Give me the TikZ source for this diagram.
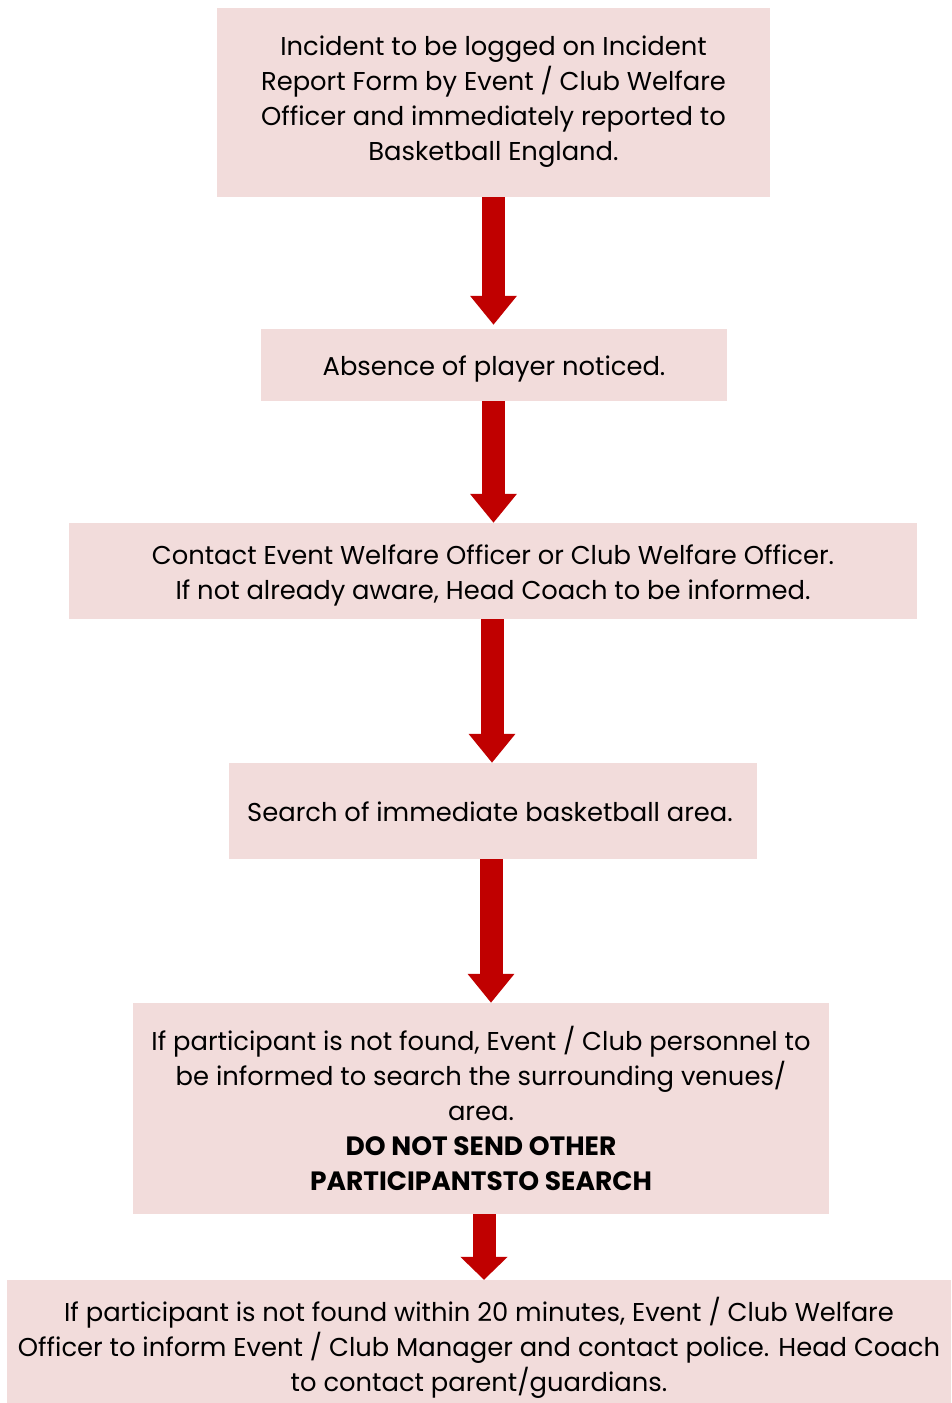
\documentclass[tikz,border=0pt]{standalone}
\usepackage{fontspec}
\setmainfont{Poppins}
\usetikzlibrary{arrows.meta}
\definecolor{boxfill}{HTML}{F2DCDB}
\definecolor{arrowred}{HTML}{C00000}
\begin{document}
\begin{tikzpicture}[x=1pt,y=-1pt,
  stepbox/.style={fill=boxfill, draw=none, inner sep=0pt},
  steptext/.style={inner sep=0pt, align=center,
    font=\fontsize{25.8}{35}\selectfont, text=black},
  flowarrow/.style={draw=arrowred, line width=23pt,
    -{Triangle[width=45pt,length=29pt,fill=arrowred]}}]
\useasboundingbox (0,0) rectangle (951,1403);

\node[stepbox, minimum width=553pt, minimum height=189pt] (b1) at (493.5,102.5) {};
\node[steptext] (t1) at (493.5,101.5)
  {Incident to be logged on Incident\\Report Form by Event / Club Welfare\\Officer and immediately reported to\\Basketball England.};
\node[stepbox, minimum width=466pt, minimum height=72pt] (b2) at (494,365) {};
\node[steptext] (t2) at (494,369) {Absence of player noticed.};
\node[stepbox, minimum width=848pt, minimum height=96pt] (b3) at (493,571) {};
\node[steptext] (t3) at (493,575)
  {Contact Event Welfare Officer or Club Welfare Officer.\\If not already aware, Head Coach to be informed.};
\node[stepbox, minimum width=528pt, minimum height=96pt] (b4) at (493,811) {};
\node[steptext] (t4) at (490,812) {Search of immediate basketball area.};
\node[stepbox, minimum width=696pt, minimum height=211pt] (b5) at (481,1108.5) {};
\node[steptext] (t5) at (481,1108)
  {If participant is not found, Event / Club personnel to\\be informed to search the surrounding venues/\\area.\\{\fontsize{26.5}{35}\selectfont\bfseries DO NOT SEND OTHER}\\{\fontsize{26.5}{35}\selectfont\bfseries PARTICIPANTSTO SEARCH}};
\node[stepbox, minimum width=944pt, minimum height=123pt] (b6) at (479,1341.5) {};
\node[steptext] (t6) at (479,1347.5)
  {If participant is not found within 20 minutes, Event / Club Welfare\\Officer to inform Event / Club Manager and contact police. Head Coach\\to contact parent/guardians.};

\coordinate (a1) at (493.5,0);
\coordinate (a2) at (493.5,0);
\coordinate (a3) at (492,0);
\coordinate (a4) at (491,0);
\coordinate (a5) at (484,0);

\draw[flowarrow, shorten >=4pt] (b1.south -| a1) -- (b2.north -| a1);
\draw[flowarrow] (b2.south -| a2) -- (b3.north -| a2);
\draw[flowarrow] (b3.south -| a3) -- (b4.north -| a3);
\draw[flowarrow] (b4.south -| a4) -- (b5.north -| a4);
\draw[draw=arrowred, line width=23pt, -{Triangle[width=46pt,length=23pt,fill=arrowred]}] (b5.south -| a5) -- (b6.north -| a5);
\end{tikzpicture}
\end{document}
